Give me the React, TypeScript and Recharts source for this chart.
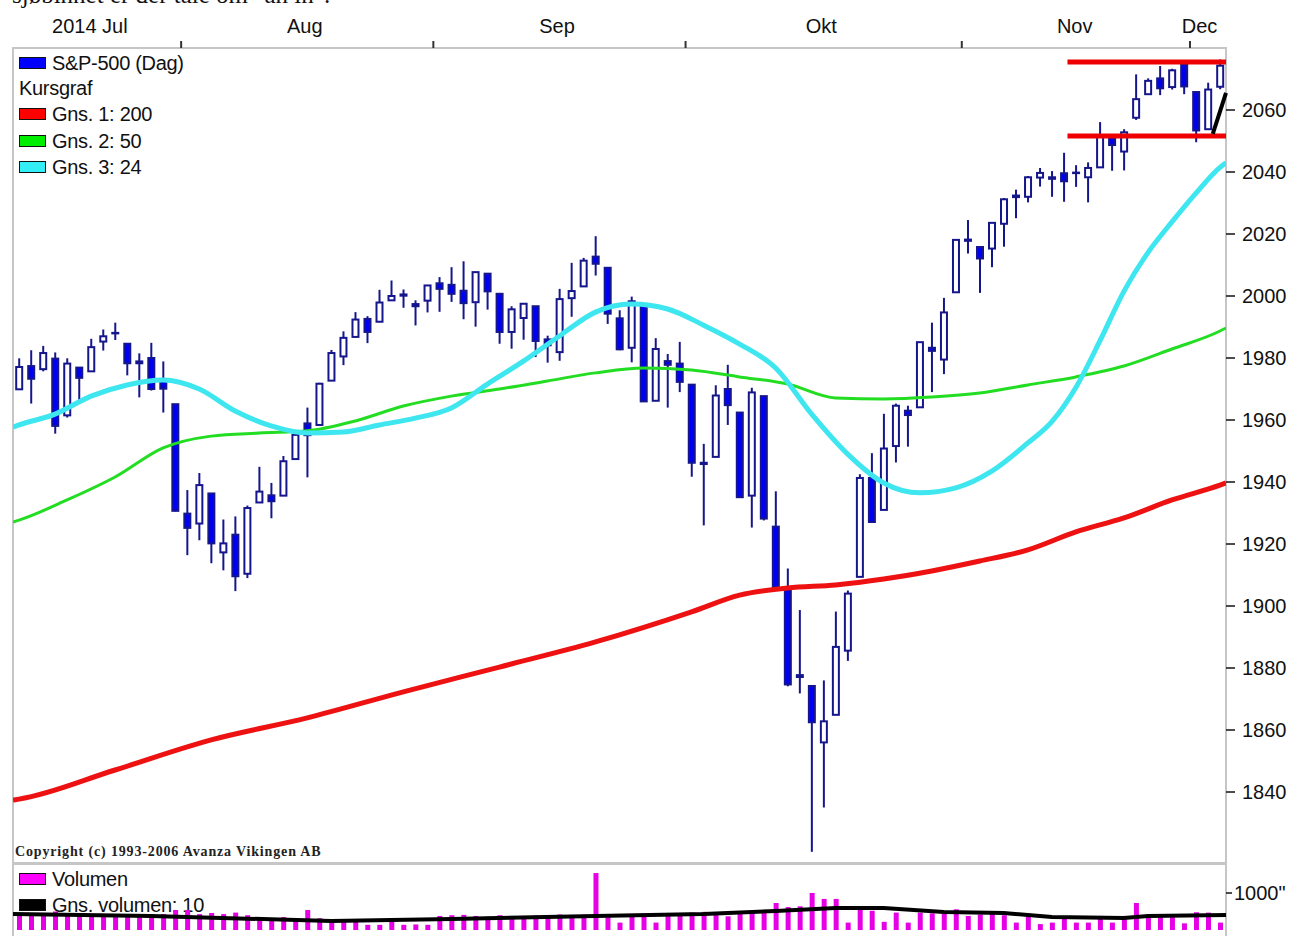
import React from "react";
import { ComposedChart, Bar, Line, XAxis, YAxis, ReferenceLine } from "recharts";

// trading days, 14 Jul – 3 Dec 2014
const dates = [
  "14.07", "15.07", "16.07", "17.07", "18.07", "21.07", "22.07", "23.07", "24.07", "25.07", "28.07", "29.07", "30.07", "31.07",
  "01.08", "04.08", "05.08", "06.08", "07.08", "08.08", "11.08", "12.08", "13.08", "14.08", "15.08", "18.08", "19.08", "20.08", "21.08", "22.08", "25.08", "26.08", "27.08", "28.08", "29.08",
  "02.09", "03.09", "04.09", "05.09", "08.09", "09.09", "10.09", "11.09", "12.09", "15.09", "16.09", "17.09", "18.09", "19.09", "22.09", "23.09", "24.09", "25.09", "26.09", "29.09", "30.09",
  "01.10", "02.10", "03.10", "06.10", "07.10", "08.10", "09.10", "10.10", "13.10", "14.10", "15.10", "16.10", "17.10", "20.10", "21.10", "22.10", "23.10", "24.10", "27.10", "28.10", "29.10", "30.10", "31.10",
  "03.11", "04.11", "05.11", "06.11", "07.11", "10.11", "11.11", "12.11", "13.11", "14.11", "17.11", "18.11", "19.11", "20.11", "21.11", "24.11", "25.11", "26.11", "28.11",
  "01.12", "02.12", "03.12",
];

const opens = [
  1969.9, 1977.4, 1976.4, 1979.8, 1961.5, 1976.9, 1975.7, 1985.3, 1988.1, 1984.6, 1978.3, 1980.0, 1973.2, 1965.1,
  1929.8, 1926.6, 1936.3, 1917.3, 1923.0, 1910.4, 1933.4, 1935.7, 1935.6, 1947.4, 1958.9, 1958.4, 1972.7, 1980.5, 1986.8, 1992.6, 1991.7, 1998.6, 2000.5, 1997.4, 1998.5,
  2004.1, 2003.6, 2001.7, 1998.0, 2007.2, 2000.7, 1988.4, 1992.9, 1996.7, 1986.0, 1981.9, 1999.3, 2003.1, 2012.7, 2009.1, 1992.8, 1983.3, 1997.3, 1966.2, 1979.0, 1978.2,
  1971.4, 1945.8, 1948.1, 1970.0, 1962.4, 1935.6, 1967.7, 1925.6, 1905.7, 1877.1, 1874.2, 1856.0, 1864.9, 1885.6, 1909.4, 1941.3, 1931.0, 1951.6, 1963.0, 1964.1, 1983.3, 1979.5, 2001.2,
  2018.2, 2015.8, 2015.3, 2023.3, 2032.4, 2032.0, 2038.2, 2037.8, 2039.6, 2039.7, 2038.3, 2041.5, 2051.2, 2046.6, 2057.5, 2065.1, 2070.2, 2067.4, 2074.8,
  2065.8, 2053.8, 2067.5,
];

const highs = [
  1979.9, 1982.5, 1983.9, 1981.8, 1979.9, 1976.9, 1986.2, 1989.2, 1991.4, 1984.6, 1981.5, 1984.9, 1978.9, 1965.1,
  1937.4, 1942.9, 1936.3, 1927.9, 1928.9, 1932.4, 1944.9, 1939.7, 1948.4, 1955.2, 1964.0, 1972.0, 1982.6, 1988.6, 1994.8, 1993.5, 2002.0, 2005.0, 2002.1, 1998.6, 2003.4,
  2006.1, 2009.3, 2011.2, 2007.7, 2007.2, 2001.0, 1996.7, 1997.7, 1996.7, 1987.2, 2002.3, 2010.7, 2012.3, 2019.3, 2009.1, 1995.4, 1999.8, 1997.3, 1986.4, 1981.3, 1985.2,
  1971.4, 1952.3, 1971.2, 1977.8, 1962.4, 1970.4, 1967.7, 1937.0, 1912.1, 1898.7, 1874.2, 1876.0, 1898.2, 1905.0, 1942.5, 1949.3, 1962.0, 1965.3, 1964.6, 1985.1, 1991.4, 1999.4, 2018.2,
  2024.5, 2016.0, 2023.8, 2031.6, 2034.3, 2038.7, 2041.3, 2040.3, 2046.2, 2042.2, 2043.1, 2056.1, 2052.1, 2053.8, 2071.5, 2070.2, 2074.2, 2073.3, 2075.8,
  2065.8, 2068.8, 2076.3,
];

const lows = [
  1969.9, 1965.3, 1975.7, 1955.6, 1960.8, 1965.8, 1975.7, 1982.4, 1985.8, 1974.4, 1967.3, 1969.5, 1962.4, 1930.5,
  1916.4, 1921.2, 1913.8, 1911.5, 1904.8, 1909.0, 1933.4, 1928.3, 1935.6, 1947.4, 1941.5, 1958.4, 1972.7, 1977.7, 1986.8, 1984.8, 1991.7, 1998.6, 1996.2, 1990.5, 1994.7,
  1994.9, 1998.1, 1992.5, 1990.1, 1995.6, 1984.6, 1983.0, 1985.9, 1980.3, 1978.5, 1979.1, 1993.3, 2003.1, 2006.6, 1991.0, 1982.5, 1978.6, 1965.8, 1966.2, 1964.0, 1969.0,
  1941.7, 1926.0, 1948.1, 1958.4, 1934.9, 1925.3, 1927.6, 1906.0, 1874.1, 1871.8, 1820.7, 1835.0, 1864.9, 1882.3, 1909.4, 1926.8, 1931.0, 1946.3, 1951.4, 1964.1, 1969.0, 1974.8, 2001.2,
  2013.7, 2001.0, 2009.3, 2015.9, 2025.1, 2030.2, 2035.3, 2032.0, 2030.4, 2035.2, 2030.2, 2041.5, 2040.4, 2040.5, 2056.8, 2065.1, 2064.8, 2066.6, 2065.1,
  2049.6, 2053.8, 2066.7,
];

const closes = [
  1977.1, 1973.3, 1981.6, 1958.1, 1978.2, 1973.6, 1983.5, 1987.0, 1988.0, 1978.3, 1978.9, 1970.0, 1970.1, 1930.7,
  1925.2, 1939.0, 1920.2, 1920.2, 1909.6, 1931.6, 1936.9, 1933.8, 1946.7, 1955.2, 1955.1, 1971.7, 1981.6, 1986.5, 1992.4, 1988.4, 1997.9, 2000.0, 2000.1, 1996.7, 2003.4,
  2002.3, 2000.7, 1997.7, 2007.7, 2001.5, 1988.4, 1995.7, 1997.5, 1985.5, 1984.1, 1999.0, 2001.6, 2011.4, 2010.4, 1994.3, 1982.8, 1998.3, 1966.0, 1982.9, 1977.8, 1972.3,
  1946.2, 1946.2, 1967.9, 1964.8, 1935.1, 1968.9, 1928.2, 1906.1, 1874.7, 1877.7, 1862.5, 1862.8, 1886.8, 1904.0, 1941.3, 1927.1, 1950.8, 1964.6, 1961.6, 1985.1, 1982.3, 1994.7, 2018.1,
  2017.8, 2012.1, 2023.6, 2031.2, 2031.9, 2038.3, 2039.7, 2038.3, 2037.0, 2039.8, 2041.3, 2051.8, 2048.7, 2052.8, 2063.5, 2069.4, 2067.0, 2072.8, 2067.6,
  2053.4, 2066.6, 2074.3,
];

const volumes = [
  430, 460, 420, 500, 460, 400, 420, 400, 420, 390, 400, 420, 430, 540,
  540, 430, 460, 430, 470, 400, 300, 320, 350, 320, 540, 320, 280, 270, 290, 140, 140, 260, 140, 150, 140,
  380, 400, 410, 380, 360, 400, 380, 360, 390, 400, 420, 400, 410, 1540, 420, 200, 410, 430, 200, 380, 430,
  470, 490, 410, 370, 450, 480, 470, 730, 620, 640, 1000, 840, 840, 200, 560, 520, 220, 470, 200, 470, 450, 470, 560,
  380, 420, 430, 400, 200, 380, 160, 200, 380, 200, 200, 380, 200, 380, 730, 400, 430, 380, 180,
  480, 470, 200,
];

// moving averages read off the picture: [day index, value]; -0.5 / 100.5 are the plot edges
const ma200Pts: [number, number][] = [
  [-0.5, 1837.4], [0, 1837.7], [8, 1847.1], [16, 1856.8], [24, 1863.9], [32, 1872.3], [40, 1880.3], [48, 1888.4],
  [56, 1898.1], [60, 1903.5], [64, 1905.8], [68, 1906.8], [72, 1908.7], [76, 1911.3], [80, 1914.5], [84, 1918.1],
  [88, 1923.9], [92, 1928.4], [96, 1934.2], [100, 1939.0], [100.5, 1939.7],
];
const ma50Pts: [number, number][] = [
  [-0.5, 1927.1], [0, 1927.7], [4, 1934.2], [8, 1941.6], [12, 1951.0], [16, 1954.8], [20, 1955.8], [24, 1956.5],
  [28, 1959.7], [32, 1964.5], [36, 1967.7], [40, 1970.0], [44, 1972.6], [48, 1975.2], [52, 1976.8], [56, 1976.1],
  [60, 1973.9], [64, 1971.6], [68, 1967.1], [72, 1966.8], [76, 1967.4], [80, 1968.7], [84, 1971.3], [88, 1973.9],
  [92, 1977.4], [96, 1982.9], [100, 1988.7], [100.5, 1989.7],
];
const ma24Pts: [number, number][] = [
  [-0.5, 1957.7], [0, 1958.4], [3, 1961.9], [6, 1967.7], [9, 1971.3], [12, 1972.9], [15, 1970.0], [18, 1962.9],
  [21, 1958.1], [24, 1955.8], [27, 1956.1], [30, 1958.4], [33, 1960.6], [36, 1963.9], [39, 1971.6], [42, 1979.0],
  [45, 1987.1], [48, 1994.8], [51, 1997.4], [54, 1995.8], [57, 1990.6], [60, 1984.5], [63, 1976.8], [66, 1961.9],
  [69, 1949.0], [72, 1939.7], [75, 1936.5], [78, 1938.1], [81, 1943.5], [84, 1952.6], [86, 1959.5], [88, 1970.5],
  [90, 1985.5], [92, 2001.5], [94, 2014.0], [96, 2023.9], [98, 2033.2], [100, 2041.5], [100.5, 2043.0],
];
const volMaPts: [number, number][] = [
  [-0.5, 432], [11, 378], [26, 243], [36, 297], [48, 378], [57, 432], [63, 514], [68, 595], [72, 595],
  [77, 486], [82, 459], [86, 351], [92, 324], [94, 378], [100.5, 405],
];

const priceTicks = [1840, 1860, 1880, 1900, 1920, 1940, 1960, 1980, 2000, 2020, 2040, 2060];
const monthLabels = ["2014 Jul", "Aug", "Sep", "Okt", "Nov", "Dec"];
const monthLabelAt = [5.9, 23.8, 44.8, 66.8, 87.9, 98.3];
const monthBounds = [13.5, 34.5, 55.5, 78.5, 97.5];

// hand-drawn lines on the chart (x in day index)
const resistance = 2075.5;
const support = 2051.6;
const trendFrom = { x: 99.4, y: 2052.3 };
const trendTo = { x: 100.5, y: 2065.5 };

const rows = dates.map((d, i) => ({
  d,
  i,
  o: opens[i],
  h: highs[i],
  l: lows[i],
  c: closes[i],
  vol: volumes[i],
}));

const toLine = (pts: [number, number][]) => pts.map(([i, v]) => ({ i, v }));

const EDGE = "#16168c";
const FILL = "#0000f0";
const FRAME = "#c6c6c6";

function Candle(props: any) {
  const { x, y, width, height, payload } = props;
  if (!payload || height == null) return null;
  const top = Math.min(y, y + height);
  const h = Math.abs(height);
  const k = h / (payload.h - payload.l || 1);
  const cx = x + width / 2;
  const yo = top + (payload.h - payload.o) * k;
  const yc = top + (payload.h - payload.c) * k;
  const down = payload.c < payload.o;
  return (
    <g>
      <line x1={cx} x2={cx} y1={top} y2={top + h} stroke={EDGE} strokeWidth={2} />
      <rect
        x={cx - 3}
        y={Math.min(yo, yc)}
        width={6}
        height={Math.max(Math.abs(yc - yo), 0.5)}
        fill={down ? FILL : "#fff"}
        stroke={EDGE}
        strokeWidth={2}
      />
    </g>
  );
}

function TopTick(props: any) {
  const { x, payload } = props;
  const v = payload.value;
  if (monthBounds.includes(v)) {
    return <line x1={x} x2={x} y1={41} y2={48} stroke="#333" strokeWidth={2} />;
  }
  const k = monthLabelAt.indexOf(v);
  return (
    <text x={x} y={33} textAnchor="middle" fontSize={20} fill="#111">
      {monthLabels[k]}
    </text>
  );
}

function Swatch({ top, color, label }: { top: number; color: string; label: string }) {
  return (
    <div style={{ position: "absolute", left: 19, top, height: 24, display: "flex", alignItems: "center" }}>
      <div style={{ width: 25, height: 10, background: color, border: "1px solid #111", marginRight: 6 }} />
      <span style={{ fontSize: 20, color: "#111", letterSpacing: -0.3 }}>{label}</span>
    </div>
  );
}

export default function App() {
  return (
    <div
      style={{
        position: "absolute",
        left: 0,
        top: 0,
        width: 1293,
        height: 936,
        overflow: "hidden",
        background: "#fff",
        fontFamily: "'Liberation Sans', Arial, sans-serif",
      }}
    >
      <div
        style={{
          position: "absolute",
          left: 12,
          top: -18,
          fontFamily: "'Liberation Serif', serif",
          fontSize: 25,
          lineHeight: "25px",
          color: "#111",
          whiteSpace: "nowrap",
        }}
      >
        sjøbinnet er der tale om "an in".
      </div>

      {/* frame */}
      <div style={{ position: "absolute", left: 12, top: 47, width: 1215, height: 2, background: FRAME }} />
      <div style={{ position: "absolute", left: 12, top: 47, width: 2, height: 900, background: FRAME }} />
      <div style={{ position: "absolute", left: 1225, top: 47, width: 2, height: 900, background: FRAME }} />
      <div style={{ position: "absolute", left: 12, top: 862, width: 1215, height: 3, background: FRAME }} />

      <Swatch top={51} color="#0000ff" label="S&P-500 (Dag)" />
      <div style={{ position: "absolute", left: 19, top: 77, fontSize: 20, color: "#111", letterSpacing: -0.3 }}>Kursgraf</div>
      <Swatch top={102} color="#ff0000" label="Gns. 1: 200" />
      <Swatch top={129} color="#00ee00" label="Gns. 2: 50" />
      <Swatch top={155} color="#33eef6" label="Gns. 3: 24" />

      <div
        style={{
          position: "absolute",
          left: 15,
          top: 844,
          fontFamily: "'Liberation Serif', serif",
          fontSize: 14,
          fontWeight: "bold",
          letterSpacing: 0.85,
          color: "#222",
          whiteSpace: "nowrap",
        }}
      >
        Copyright (c) 1993-2006 Avanza Vikingen AB
      </div>

      <Swatch top={867} color="#ff00ff" label="Volumen" />
      <Swatch top={893} color="#000" label="Gns. volumen: 10" />

      <div style={{ position: "absolute", left: 0, top: 0 }}>
        <ComposedChart width={1293} height={862} data={rows} margin={{ top: 0, right: 0, left: 13, bottom: 0 }}>
          <XAxis xAxisId="cat" dataKey="d" type="category" hide />
          <XAxis
            xAxisId="top"
            dataKey="i"
            type="number"
            orientation="top"
            height={48}
            domain={[-0.5, 100.5]}
            allowDataOverflow
            ticks={[...monthBounds, ...monthLabelAt]}
            interval={0}
            tickLine={false}
            axisLine={false}
            tick={(p: any) => <TopTick {...p} />}
          />
          <YAxis
            orientation="right"
            width={67}
            domain={[1817.42, 2080]}
            allowDataOverflow
            ticks={priceTicks}
            interval={0}
            axisLine={false}
            tickSize={9}
            tickMargin={7}
            tickLine={{ stroke: "#111", strokeWidth: 1.5 }}
            tick={{ fill: "#111", fontSize: 20 }}
          />
          <Bar
            xAxisId="cat"
            dataKey={(r: any) => [r.l, r.h]}
            shape={(p: any) => <Candle {...p} />}
            isAnimationActive={false}
          />
          <Line xAxisId="top" data={toLine(ma200Pts)} dataKey="v" type="monotone" stroke="#ee1111" strokeWidth={5} dot={false} activeDot={false} isAnimationActive={false} />
          <Line xAxisId="top" data={toLine(ma50Pts)} dataKey="v" type="monotone" stroke="#22dd22" strokeWidth={3} dot={false} activeDot={false} isAnimationActive={false} />
          <Line xAxisId="top" data={toLine(ma24Pts)} dataKey="v" type="monotone" stroke="#3ee6f0" strokeWidth={5} dot={false} activeDot={false} isAnimationActive={false} />
          <ReferenceLine xAxisId="top" segment={[{ x: 87.3, y: resistance }, { x: 100.5, y: resistance }]} stroke="#ee0000" strokeWidth={5} />
          <ReferenceLine xAxisId="top" segment={[{ x: 87.3, y: support }, { x: 100.5, y: support }]} stroke="#ee0000" strokeWidth={5} />
          <ReferenceLine xAxisId="top" segment={[trendFrom, trendTo]} stroke="#000" strokeWidth={4} />
        </ComposedChart>
      </div>

      <div style={{ position: "absolute", left: 0, top: 866 }}>
        <ComposedChart width={1293} height={64} data={rows} margin={{ top: 0, right: 0, left: 13, bottom: 0 }}>
          <XAxis xAxisId="cat" dataKey="d" type="category" hide />
          <XAxis xAxisId="num" dataKey="i" type="number" domain={[-0.5, 100.5]} allowDataOverflow hide />
          <YAxis
            orientation="right"
            width={67}
            domain={[0, 1730]}
            allowDataOverflow
            ticks={[1000]}
            axisLine={false}
            tickSize={6}
            tickMargin={2}
            tickLine={{ stroke: "#111", strokeWidth: 1.5 }}
            tick={{ fill: "#111", fontSize: 20 }}
            tickFormatter={(v: number) => `${v}"`}
          />
          <Bar xAxisId="cat" dataKey="vol" fill="#e600e6" barSize={5} isAnimationActive={false} />
          <Line xAxisId="num" data={toLine(volMaPts)} dataKey="v" type="linear" stroke="#000" strokeWidth={4} dot={false} activeDot={false} isAnimationActive={false} />
        </ComposedChart>
      </div>
    </div>
  );
}
